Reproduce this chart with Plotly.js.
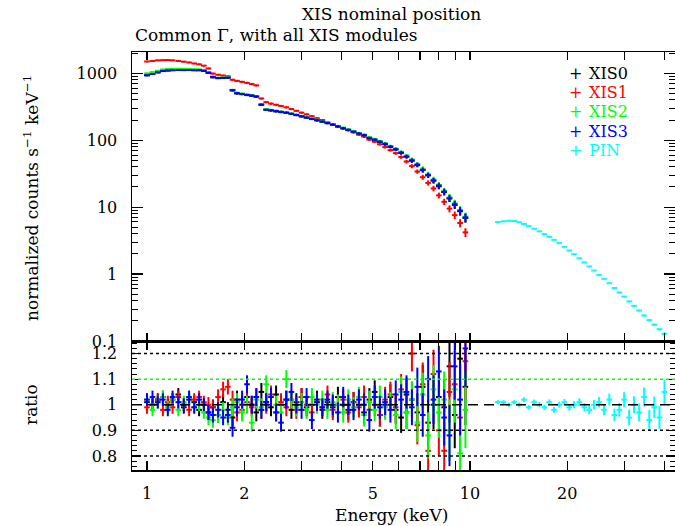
<!DOCTYPE html>
<html>
<head>
<meta charset="utf-8">
<script src="https://cdn.plot.ly/plotly-3.0.1.min.js"></script>
<style>html,body{margin:0;padding:0;background:#fff}#chart{width:675px;height:526px}</style>
</head>
<body>
<div id="chart"></div>
<script>
// ---- data ----
const seriesNames = ["XIS0", "XIS1", "XIS2", "XIS3"];
const pinName = "PIN";
const xisEnergy = [1.00,1.04,1.08,1.12,1.16,1.20,1.25,1.30,1.35,1.40,1.45,1.50,1.55,1.60,1.66,1.72,1.78,1.84,1.90,1.97,2.04,2.11,2.18,2.26,2.34,2.42,2.51,2.60,2.70,2.80,2.90,3.01,3.12,3.24,3.36,3.49,3.62,3.76,3.90,4.05,4.20,4.36,4.53,4.70,4.88,5.07,5.26,5.46,5.67,5.89,6.12,6.36,6.61,6.87,7.14,7.42,7.71,8.01,8.32,8.64,8.97,9.32,9.68];
const xis0Counts = [940,985,1035,1085,1105,1115,1125,1120,1120,1115,1110,1085,1010,870,845,852,865,555,500,488,473,462,448,338,286,279,270,263,256,247,237,227,217,207,198,189,180,170,160,151,142,134,125,118,108,101,94,87,80,73,65,57,49.5,42.5,36,30,25,20.5,16.8,13.6,10.8,8.7,6.9];
const xis1Counts = [1500,1530,1560,1570,1575,1560,1530,1490,1450,1400,1360,1300,1180,990,950,925,900,800,770,745,720,690,660,420,370,352,338,325,310,292,275,258,243,228,213,200,185,173,161,150,141,131,121,113,102,95,87,79,71,64,56,48,41,34,28,23,19,15,12,9.5,7.6,5.8,4.2];
const xis2Counts = [995,1040,1090,1140,1160,1165,1170,1165,1160,1150,1145,1120,1040,895,860,862,870,565,512,498,482,470,456,346,291,284,276,268,261,251,241,231,221,211,202,192,183,173,163,154,145,137,128,121,111,104,97,90,82,75,67,59,51.5,44,37.5,31,26,21.5,17.5,14,11.4,9.1,7.2];
const xis3Counts = [930,975,1030,1080,1100,1110,1120,1115,1120,1110,1115,1090,1020,880,850,850,860,560,505,490,475,465,450,340,285,280,272,265,258,248,238,228,218,208,199,190,180,171,161,151,143,134,126,119,108,102,95,88,80,73,65,57,50,43,36,30,25,21,17,13.5,11,8.8,7.0];
const pinEnergy = [12.2,12.7,13.2,13.7,14.2,14.7,15.2,15.8,16.4,17.0,17.6,18.2,18.9,19.6,20.3,21.0,21.8,22.6,23.4,24.2,25.1,26.0,27.0,28.0,29.0,30.0,31.1,32.2,33.4,34.6,35.9,37.2,38.6,40.0];
const pinCounts = [6.0,6.15,6.25,6.2,5.95,5.6,5.2,4.75,4.35,3.95,3.6,3.25,2.9,2.55,2.25,1.98,1.72,1.49,1.3,1.13,0.97,0.85,0.73,0.62,0.53,0.46,0.39,0.335,0.285,0.24,0.205,0.175,0.15,0.128];
const xis0Ratio = [1.01,1.00,1.02,1.03,1.00,1.02,1.04,0.99,1.02,1.01,0.98,1.00,0.97,0.99,0.96,1.01,0.98,0.95,1.02,1.00,1.03,1.00,0.97,1.05,1.01,0.99,1.04,1.00,1.02,0.98,1.01,1.03,0.99,1.00,1.02,0.98,1.01,0.99,1.03,1.00,0.98,1.01,1.00,0.97,1.02,1.05,0.96,1.00,1.03,0.98,0.95,1.04,1.02,0.97,1.07,0.93,1.00,1.03,0.99,1.15,0.96,1.18,1.07];
const xis1Ratio = [0.99,1.00,1.02,0.98,1.01,0.99,1.03,1.00,0.98,1.02,1.03,1.01,1.00,0.99,1.03,1.06,1.07,1.02,0.97,0.98,1.01,0.99,1.03,0.98,1.00,1.04,0.97,1.01,0.99,1.02,0.98,1.03,1.00,0.97,1.01,0.99,1.04,0.98,1.00,1.02,0.97,1.01,0.99,1.03,0.98,1.00,0.96,1.02,1.04,0.99,1.06,0.97,1.20,0.92,1.08,0.82,1.12,0.90,0.82,1.05,1.08,0.95,1.17];
const xis2Ratio = [1.02,0.98,1.01,1.03,0.99,1.02,0.98,1.01,1.03,0.99,1.00,0.97,0.95,0.94,0.96,0.98,0.95,0.99,1.01,0.97,1.00,0.93,1.02,0.99,1.08,1.03,1.00,0.97,1.10,1.02,0.99,1.01,0.98,1.03,1.00,1.02,0.98,1.01,1.00,0.97,1.02,0.99,1.03,0.96,1.01,0.98,1.03,0.99,1.00,0.96,1.05,0.97,1.02,0.93,1.04,0.88,1.06,0.97,1.02,0.90,1.06,0.81,0.98];
const xis3Ratio = [1.02,1.03,1.01,1.02,0.98,1.03,1.01,1.00,1.03,0.99,1.02,1.00,0.97,0.96,0.98,0.95,0.96,0.91,0.99,1.02,1.08,1.00,1.03,0.98,1.01,1.03,0.97,0.93,1.02,1.05,1.00,0.98,1.03,0.94,1.01,0.99,1.02,1.00,0.97,1.03,1.00,0.98,1.02,1.00,0.94,1.03,0.99,1.01,0.98,1.04,1.02,1.05,0.99,1.07,0.96,1.10,1.02,1.13,0.95,0.88,1.15,1.02,1.22];
const xisRatioErr = [0.025,0.025,0.025,0.025,0.025,0.025,0.025,0.025,0.025,0.025,0.025,0.025,0.03,0.03,0.03,0.03,0.03,0.035,0.035,0.035,0.035,0.035,0.035,0.035,0.035,0.035,0.035,0.035,0.035,0.035,0.035,0.035,0.035,0.035,0.035,0.035,0.035,0.04,0.04,0.04,0.04,0.04,0.04,0.045,0.045,0.045,0.045,0.05,0.05,0.055,0.06,0.065,0.07,0.075,0.085,0.09,0.095,0.1,0.11,0.12,0.13,0.14,0.15];
const pinRatio = [1.01,1.01,1.00,1.01,1.00,1.02,0.99,1.01,1.00,0.99,1.01,0.98,1.00,1.01,0.99,1.00,1.01,0.99,0.98,1.00,1.01,0.98,1.02,0.96,0.98,1.02,0.95,1.00,0.97,1.03,0.94,0.99,0.95,1.05];
const pinRatioErr = [0.008,0.008,0.008,0.008,0.009,0.009,0.009,0.01,0.01,0.01,0.011,0.011,0.012,0.012,0.013,0.014,0.015,0.016,0.017,0.018,0.02,0.021,0.023,0.025,0.027,0.029,0.031,0.033,0.035,0.037,0.04,0.042,0.045,0.048];
const xTickVals = [1,2,3,4,5,6,7,8,9,10,20,30,40];
const xTickText = ["1","2","","","5","","","","","10","20","",""];
const yTopTickVals = [0.1,1,10,100,1000];
const yTopTickText = ["0.1","1","10","100","1000"];
const yTopMinorVals = [0.2,0.3,0.4,0.5,0.6,0.7,0.8,0.9,2,3,4,5,6,7,8,9,20,30,40,50,60,70,80,90,200,300,400,500,600,700,800,900,2000];
const yRatioTickVals = [0.8,0.9,1,1.1,1.2];
const yRatioTickText = ["0.8","0.9","1","1.1","1.2"];
const refLines = [0.8,0.9,1.1,1.2];

// ---- styling ----
const colors = ["#000000", "#ff0000", "#00ff00", "#0000ff"];
const pinColor = "#00ffff";
const FONT = "DejaVu Serif";
const counts = [xis0Counts, xis1Counts, xis2Counts, xis3Counts];
const ratios = [xis0Ratio, xis1Ratio, xis2Ratio, xis3Ratio];

const traces = [];
function spec(x, y, c, xa, ya, errArr) {
  return {
    x: x, y: y, type: "scatter", mode: "markers", xaxis: xa, yaxis: ya,
    marker: {size: 1, color: c}, showlegend: false, hoverinfo: "skip",
    error_x: {type: "percent", value: 2.0, width: 0, thickness: 2, color: c},
    error_y: {type: "data", array: errArr, width: 0, thickness: 2, color: c}
  };
}
// top-panel error bars: counts times the relative (ratio) uncertainty
for (let i = 0; i < 4; i++) {
  const e = counts[i].map((v, j) => v * xisRatioErr[j]);
  traces.push(spec(xisEnergy, counts[i], colors[i], "x2", "y2", e));
}
traces.push(spec(pinEnergy, pinCounts, pinColor, "x2", "y2", pinCounts.map((v, j) => v * pinRatioErr[j])));
for (let i = 0; i < 4; i++) {
  traces.push(spec(xisEnergy, ratios[i], colors[i], "x", "y", xisRatioErr));
}
traces.push(spec(pinEnergy, pinRatio, pinColor, "x", "y", pinRatioErr));

const L = 132, R = 0, T = 52, B = 56, W = 675, H = 526;
const pw = W - L - R, ph = H - T - B;
const split = (470 - 341) / ph;
const px = v => (v - L) / pw;
const py = v => (H - B - v) / ph;
const xRange = [(132 - 147) / 323, (675 - 147) / 323];

const axisCommon = {
  showline: true, linecolor: "#000", linewidth: 1.5, mirror: "ticks",
  ticks: "inside", tickcolor: "#000", tickwidth: 1.2,
  showgrid: false, zeroline: false,
  tickfont: {family: FONT, size: 16, color: "#000"}
};

const shapes = refLines.map(v => ({
  type: "line", xref: "paper", x0: 0, x1: 1, yref: "y", y0: v, y1: v,
  line: {color: v === 1.1 ? "#00ff00" : "#000", width: 1.5, dash: "dot"}
}));
shapes.push({type: "line", xref: "paper", x0: 0, x1: 1, yref: "y", y0: 1, y1: 1,
  line: {color: "#000", width: 1.5, dash: "10px,6px"}});

const annotations = [
  {text: "XIS nominal position", xref: "paper", yref: "paper", x: px(391), y: py(14), xanchor: "center", yanchor: "middle", showarrow: false, font: {family: FONT, size: 17, color: "#000"}},
  {text: "Common Γ, with all XIS modules", xref: "paper", yref: "paper", x: px(133), y: py(35), xanchor: "left", yanchor: "middle", showarrow: false, font: {family: FONT, size: 17, color: "#000"}},
  {text: "normalized counts s<sup>−1</sup> keV<sup>−1</sup>", xref: "paper", yref: "paper", x: px(31), y: py(198), textangle: -90, xanchor: "center", yanchor: "middle", showarrow: false, font: {family: FONT, size: 17, color: "#000"}},
  {text: "ratio", xref: "paper", yref: "paper", x: px(31), y: py(405), textangle: -90, xanchor: "center", yanchor: "middle", showarrow: false, font: {family: FONT, size: 17, color: "#000"}},
  {text: "Energy (keV)", xref: "paper", yref: "paper", x: px(391), y: py(515), xanchor: "center", yanchor: "middle", showarrow: false, font: {family: FONT, size: 17, color: "#000"}}
];
const legNames = seriesNames.concat([pinName]);
const legColors = colors.concat([pinColor]);
legNames.forEach((n, i) => {
  const yy = 73 + i * 19.4;
  annotations.push({text: "+", xref: "paper", yref: "paper", x: px(575), y: py(yy), xanchor: "center", yanchor: "middle", showarrow: false, font: {family: FONT, size: 16, color: legColors[i]}});
  annotations.push({text: n, xref: "paper", yref: "paper", x: px(587), y: py(yy), xanchor: "left", yanchor: "middle", showarrow: false, font: {family: FONT, size: 16, color: legColors[i]}});
});

const layout = {
  width: W, height: H,
  margin: {l: L, r: R, t: T, b: B, pad: 0},
  paper_bgcolor: "#fff", plot_bgcolor: "#fff",
  showlegend: false,
  xaxis: Object.assign({}, axisCommon, {
    type: "log", domain: [0, 1], anchor: "y", range: xRange,
    tickmode: "array", tickvals: xTickVals, ticktext: xTickText, ticklen: 9,
    ticklabelstandoff: 8
  }),
  xaxis2: Object.assign({}, axisCommon, {
    type: "log", domain: [0, 1], anchor: "y2", matches: "x", range: xRange,
    tickmode: "array", tickvals: xTickVals, ticktext: xTickText, ticklen: 8,
    showticklabels: false
  }),
  yaxis: Object.assign({}, axisCommon, {
    domain: [0, split], anchor: "x", range: [0.745, 1.249],
    tickmode: "array", tickvals: yRatioTickVals, ticktext: yRatioTickText, ticklen: 9,
    minor: {ticks: "inside", ticklen: 5, dtick: 0.02, tick0: 0.8, tickcolor: "#000", tickwidth: 1},
    ticklabelstandoff: 10
  }),
  yaxis2: Object.assign({}, axisCommon, {
    type: "log", domain: [split, 1], anchor: "x2", range: [-1, 3.318],
    tickmode: "array", tickvals: yTopTickVals, ticktext: yTopTickText, ticklen: 11,
    minor: {ticks: "inside", ticklen: 6, tickmode: "array", tickvals: yTopMinorVals, tickcolor: "#000", tickwidth: 1},
    ticklabelstandoff: 10
  }),
  shapes: shapes,
  annotations: annotations
};

Plotly.newPlot("chart", traces, layout, {displayModeBar: false, staticPlot: true});
</script>
</body>
</html>
